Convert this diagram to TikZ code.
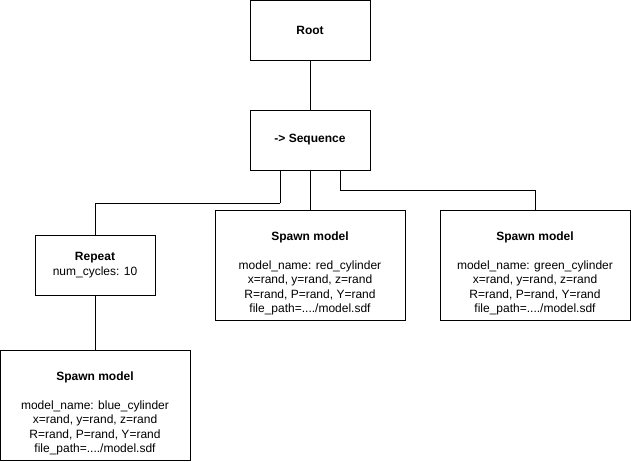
\documentclass[tikz,border=0pt]{standalone}
\usepackage{fontspec}
\setmainfont{Liberation Sans}
\usetikzlibrary{
  chains,
  positioning,
  scopes
}

\begin{document}
\begin{tikzpicture}[x=1pt,y=-1pt,
      block/.style={
         rectangle,
         draw=black,
         line width=1pt,
         minimum width=120,
         minimum height=60,
         align=center,
         font=\fontsize{12}{14.4}\selectfont
      },
      spawn/.style={
         block,
         minimum width=190,
         minimum height=110
      },
      point/.style={coordinate},
      line width=1pt,draw=black,
      hv path/.style={to path={-| (\tikztotarget)}},
      vh path/.style={to path={|- (\tikztotarget)}}
    ]
    \useasboundingbox (0,0) rectangle (631,461);
    \node (root) [block] at (310,30) {\textbf{Root}};
    \node (seq) [block] at (310,140) {\textbf{-> Sequence}};
    \node (rep) [block] at (95,265) {\textbf{Repeat}\\num\_cycles: 10};
    \node (red) [spawn] at (310,265) {\rule{0pt}{26pt}\textbf{Spawn model}\\[14.4pt]
       model\_name: red\_cylinder\\x=rand, y=rand, z=rand\\R=rand, P=rand, Y=rand\\file\_path=..../model.sdf};
    \node (green) [spawn] at (535,265) {\rule{0pt}{26pt}\textbf{Spawn model}\\[14.4pt]
       model\_name: green\_cylinder\\x=rand, y=rand, z=rand\\R=rand, P=rand, Y=rand\\file\_path=..../model.sdf};
    \node (blue) [spawn] at (95,405) {\rule{0pt}{26pt}\textbf{Spawn model}\\[14.4pt]
       model\_name: blue\_cylinder\\x=rand, y=rand, z=rand\\R=rand, P=rand, Y=rand\\file\_path=..../model.sdf};
    % bend points under the sequence
    \coordinate (n1) at ([xshift=-30]seq.south);
    \coordinate (n2) at (280,203);
    \coordinate (n3) at ([xshift=30]seq.south);
    \coordinate (n4) at (340,190);
  { [start chain]
       \chainin (root);
       \chainin (seq)    [join];
       \chainin (red)    [join];
  }
  { [start chain]
       \chainin (n1);
       \chainin (n2)    [join];
       \chainin (rep)   [join=by hv path];
       \chainin (blue)  [join];
  }
  { [start chain]
       \chainin (n3);
       \chainin (n4)    [join];
       \chainin (green) [join=by hv path];
  }
\end{tikzpicture}
\end{document}
